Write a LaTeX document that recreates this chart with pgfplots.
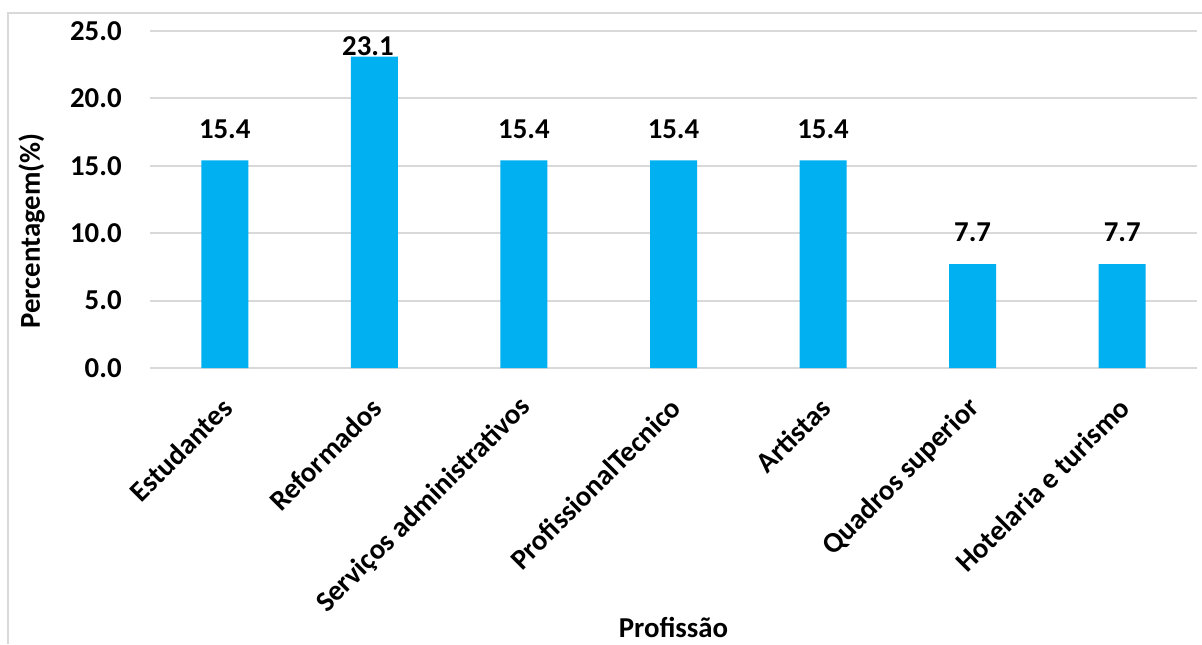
\documentclass[border=0pt]{standalone}
\usepackage{fontspec}
\setmainfont{Carlito}
\usepackage{pgfplots}
\pgfplotsset{compat=1.18}
\usepackage{pgfplotstable}

\definecolor{barblue}{RGB}{0,176,240}
\definecolor{gridgray}{RGB}{217,217,217}
\newcommand\lab{\fontsize{14.4pt}{16pt}\selectfont\bfseries}

% x: category index, y: percentage
\pgfplotstableread{
x  y
0  15.4
1  23.1
2  15.4
3  15.4
4  15.4
5  7.7
6  7.7
}\profdata

\begin{document}
\begin{tikzpicture}
\path[use as bounding box] (0,0) rectangle (601pt,322pt);
% chart frame (top and left edges)
\draw[gridgray, line width=1pt] (3.75pt,0) -- (3.75pt,315.25pt) -- (601pt,315.25pt);
\begin{axis}[
  at={(75pt,138pt)}, anchor=south west,
  scale only axis,
  width=523.5pt, height=168.5pt,
  xmin=-0.5, xmax=6.5,
  ymin=0, ymax=25,
  ytick={0,5,...,25},
  xtick=data,
  xticklabels={Estudantes,Reformados,Serviços administrativos,ProfissionalTecnico,Artistas,Quadros superior,Hotelaria e turismo},
  axis line style={draw=none},
  major tick length=0pt,
  ymajorgrids,
  grid style={gridgray, line width=1pt},
  /pgf/number format/assume math mode=true,
  yticklabel={\pgfmathprintnumber[fixed,fixed zerofill,precision=1]{\tick}},
  y tick label style={font=\lab, anchor=east, inner sep=0pt, xshift=-14pt},
  x tick label style={font=\lab, xshift=1.25pt, yshift=-17.5pt, rotate=45, anchor=east, inner sep=0pt},
  xlabel={Profissão},
  ylabel={Percentagem(\%)},
  every axis x label/.style={at={(rel axis cs:0.5,0)}, yshift=-134.5pt, anchor=base, font=\lab},
  every axis y label/.style={at={(rel axis cs:0,0.4065)}, xshift=-55pt, rotate=90, anchor=base, font=\lab},
  clip=false,
]
\addplot[ybar, bar width=23.5pt, fill=barblue, draw=none,
  nodes near coords={\pgfmathprintnumber[fixed,fixed zerofill,precision=1]{\pgfplotspointmeta}},
  nodes near coords style={font=\lab, anchor=base, inner sep=0pt, yshift=11.2pt},
  % the tallest label sits just above its bar, below the top of the plot
  coordinate style/.condition={\coordindex==1}{xshift=-3.2pt, yshift=-10.4pt},
] table[x=x, y=y] {\profdata};
\end{axis}
\end{tikzpicture}
\end{document}
